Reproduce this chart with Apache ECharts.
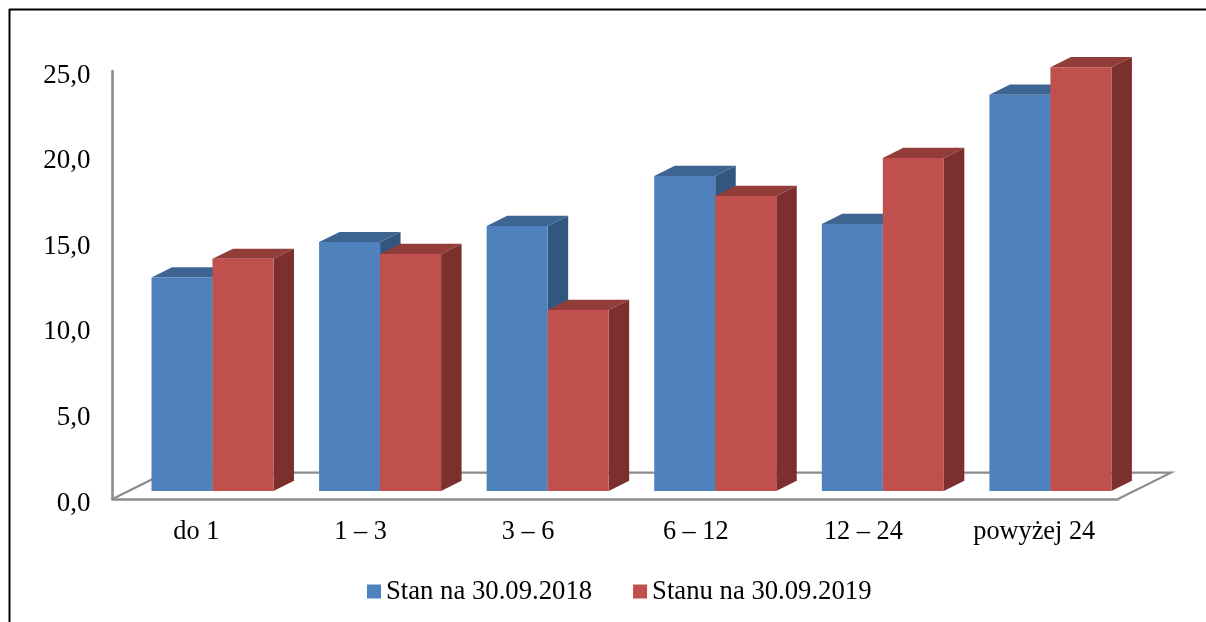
<!DOCTYPE html>
<html>
<head>
<meta charset="utf-8">
<style>html,body{margin:0;padding:0;background:#fff}#c{width:1206px;height:622px}</style>
<script src="https://cdn.jsdelivr.net/npm/echarts@6/dist/echarts.min.js"></script>
</head>
<body>
<div id="c"></div>
<script>
const categories = ['do 1', '1 – 3 ', '3 – 6 ', '6 – 12 ', '12 – 24 ', 'powyżej 24'];
const series2018 = [12.47, 14.54, 15.48, 18.4, 15.6, 23.15];
const series2019 = [13.56, 13.84, 10.57, 17.23, 19.45, 24.75];
const name2018 = 'Stan na 30.09.2018';
const name2019 = 'Stanu na 30.09.2019';

const FONT = '"Liberation Serif","Times New Roman",serif';
const AXIS = '#8c8c8c';
const BAR_W = 61, SHIFT_X = 16.2, LIFT = 8, DX = 20.5, DY = 10.2;

function bars(slot, front, top, side) {
  return function (params, api) {
    const c = api.coord([api.value(0), api.value(1)]);
    const z = api.coord([api.value(0), 0]);
    const x0 = c[0] + SHIFT_X + (slot === 0 ? -BAR_W : 0);
    const x1 = x0 + BAR_W;
    const yT = c[1] - LIFT, yB = z[1] - LIFT;
    return {
      type: 'group',
      children: [
        {type: 'polygon', shape: {points: [[x0, yT], [x0 + DX, yT - DY], [x1 + DX, yT - DY], [x1, yT]]}, style: {fill: top}},
        {type: 'polygon', shape: {points: [[x1, yT], [x1 + DX, yT - DY], [x1 + DX, yB - DY], [x1, yB]]}, style: {fill: side}},
        {type: 'rect', shape: {x: x0, y: yT, width: BAR_W, height: yB - yT}, style: {fill: front}}
      ]
    };
  };
}

function floor(params, api) {
  const s = params.coordSys;
  const b = s.y + s.height, r = s.x + s.width;
  const fx = 53, fy = 26.3;
  return {
    type: 'polyline',
    shape: {points: [[s.x, b], [s.x + fx, b - fy], [r + fx, b - fy], [r, b]]},
    style: {fill: null, stroke: AXIS, lineWidth: 2.2}
  };
}

function toData(arr) { return arr.map((v, i) => [i, v]); }

const chart = echarts.init(document.getElementById('c'), null, {renderer: 'canvas'});
chart.setOption({
  animation: false,
  backgroundColor: '#fff',
  grid: {left: 112.5, right: 88, top: 71, bottom: 123, containLabel: false},
  graphic: [
    {type: 'line', shape: {x1: 9, y1: 9.5, x2: 1206, y2: 9.5}, style: {stroke: '#000', lineWidth: 2}},
    {type: 'line', shape: {x1: 9.5, y1: 9, x2: 9.5, y2: 622}, style: {stroke: '#000', lineWidth: 2}}
  ],
  legend: {
    left: 367, top: 578, padding: 0, itemWidth: 14, itemHeight: 14, itemGap: 41,
    icon: 'rect',
    data: [name2018, name2019],
    textStyle: {fontFamily: FONT, fontSize: 26.7, color: '#000', padding: [4, 0, 0, 0]}
  },
  xAxis: {
    type: 'category', data: categories,
    axisLine: {lineStyle: {color: AXIS, width: 2.6}},
    axisTick: {show: false},
    axisLabel: {margin: 20, fontFamily: FONT, fontSize: 26.3, color: '#000', interval: 0}
  },
  yAxis: {
    type: 'value', min: 0, max: 25, interval: 5,
    splitLine: {show: false},
    axisLine: {show: true, lineStyle: {color: AXIS, width: 2.6}},
    axisTick: {show: false},
    axisLabel: {margin: 22, fontFamily: FONT, fontSize: 27, color: '#000', verticalAlign: 'top', lineHeight: 9,
      formatter: v => v.toFixed(1).replace('.', ',')}
  },
  series: [
    {type: 'custom', name: 'floor', silent: true, renderItem: floor, data: [[0, 0]], encode: {x: 0, y: 1}, z: 1},
    {type: 'custom', name: name2018, renderItem: bars(0, '#4f81bd', '#3e6592', '#32577f'),
      itemStyle: {color: '#4f81bd'}, data: toData(series2018), encode: {x: 0, y: 1}, z: 2},
    {type: 'custom', name: name2019, renderItem: bars(1, '#c0504d', '#933d3a', '#7c302e'),
      itemStyle: {color: '#c0504d'}, data: toData(series2019), encode: {x: 0, y: 1}, z: 3}
  ]
});
</script>
</body>
</html>
